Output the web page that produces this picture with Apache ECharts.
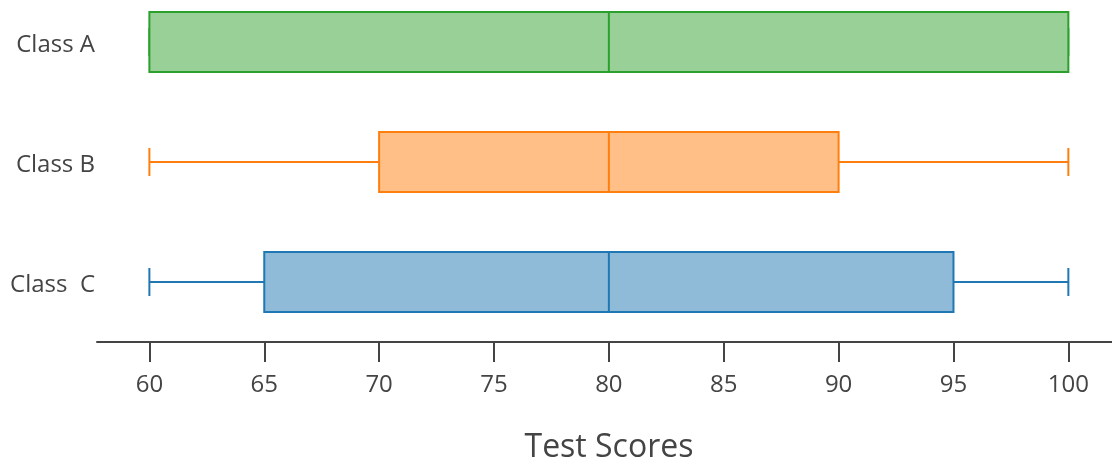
<!DOCTYPE html>
<html>
<head>
<meta charset="utf-8">
<script src="https://cdn.jsdelivr.net/npm/echarts@6/dist/echarts.min.js"></script>
<style>
  html, body { margin: 0; padding: 0; background: #fff; }
  #chart { width: 1112px; height: 459px; }
</style>
</head>
<body>
<div id="chart"></div>
<script>
// 各班级成绩（最小值，下四分位，中位数，上四分位，最大值）
var classes = ['Class A', 'Class B', 'Class  C'];
var minScores = [60, 60, 60];
var q1Scores = [60, 70, 65];
var medianScores = [80, 80, 80];
var q3Scores = [100, 90, 95];
var maxScores = [100, 100, 100];
var tickValues = [60, 65, 70, 75, 80, 85, 90, 95, 100];
var classIndex = [0, 1, 2];

var lineColors = ['#2ca02c', '#ff7f0e', '#1f77b4'];
var fillColors = ['#98d098', '#ffbf87', '#8fbbd9'];

var rows = classes.map(function (name, i) {
    return [i, minScores[i], q1Scores[i], medianScores[i], q3Scores[i], maxScores[i]];
});

var myChart = echarts.init(document.getElementById('chart'));

function renderBox(params, api) {
    var idx = api.value(0);
    var unit = api.size([0, 1])[1];
    var boxH = unit * 0.5;
    var capH = 28;
    var pMin = api.coord([api.value(1), idx]);
    var pQ1 = api.coord([api.value(2), idx]);
    var pMed = api.coord([api.value(3), idx]);
    var pQ3 = api.coord([api.value(4), idx]);
    var pMax = api.coord([api.value(5), idx]);
    var y = pMed[1];
    var stroke = { stroke: lineColors[idx], lineWidth: 2 };
    return {
        type: 'group',
        children: [
            { type: 'line', shape: { x1: pMin[0], y1: y, x2: pQ1[0], y2: y }, style: stroke },
            { type: 'line', shape: { x1: pQ3[0], y1: y, x2: pMax[0], y2: y }, style: stroke },
            { type: 'line', shape: { x1: pMin[0], y1: y - capH / 2, x2: pMin[0], y2: y + capH / 2 }, style: stroke },
            { type: 'line', shape: { x1: pMax[0], y1: y - capH / 2, x2: pMax[0], y2: y + capH / 2 }, style: stroke },
            {
                type: 'rect',
                shape: { x: pQ1[0], y: y - boxH / 2, width: pQ3[0] - pQ1[0], height: boxH },
                style: { fill: fillColors[idx], stroke: lineColors[idx], lineWidth: 2 }
            },
            { type: 'line', shape: { x1: pMed[0], y1: y - boxH / 2, x2: pMed[0], y2: y + boxH / 2 }, style: stroke }
        ]
    };
}

myChart.setOption({
    animation: false,
    textStyle: { fontFamily: 'Open Sans' },
    grid: { left: 97, right: 0, top: 0, bottom: 117, outerBoundsMode: 'none' },
    xAxis: {
        type: 'value',
        min: 57.72,
        max: 101.9,
        name: 'Test Scores',
        nameLocation: 'middle',
        nameGap: 90,
        nameTextStyle: { fontSize: 32, color: '#444', fontFamily: 'Open Sans', padding: [0, 0, 0, 9] },
        axisLine: { show: true, onZero: false, lineStyle: { color: '#444', width: 2 } },
        axisTick: { show: true, length: 20, customValues: tickValues, lineStyle: { color: '#444', width: 2 } },
        axisLabel: { customValues: tickValues, margin: 31, fontSize: 24, color: '#444', fontFamily: 'Open Sans' },
        splitLine: { show: false }
    },
    yAxis: {
        type: 'value',
        inverse: true,
        min: -0.35,
        max: 2.5,
        axisLine: { show: false },
        axisTick: { show: false },
        axisLabel: {
            customValues: classIndex,
            formatter: function (v) { return classes[v]; },
            margin: 2,
            verticalAlign: 'top',
            lineHeight: 6,
            fontSize: 24,
            color: '#444',
            fontFamily: 'Open Sans'
        },
        splitLine: { show: false }
    },
    series: [
        {
            type: 'custom',
            renderItem: renderBox,
            encode: { x: [1, 2, 3, 4, 5], y: 0 },
            data: rows
        }
    ]
});
</script>
</body>
</html>
